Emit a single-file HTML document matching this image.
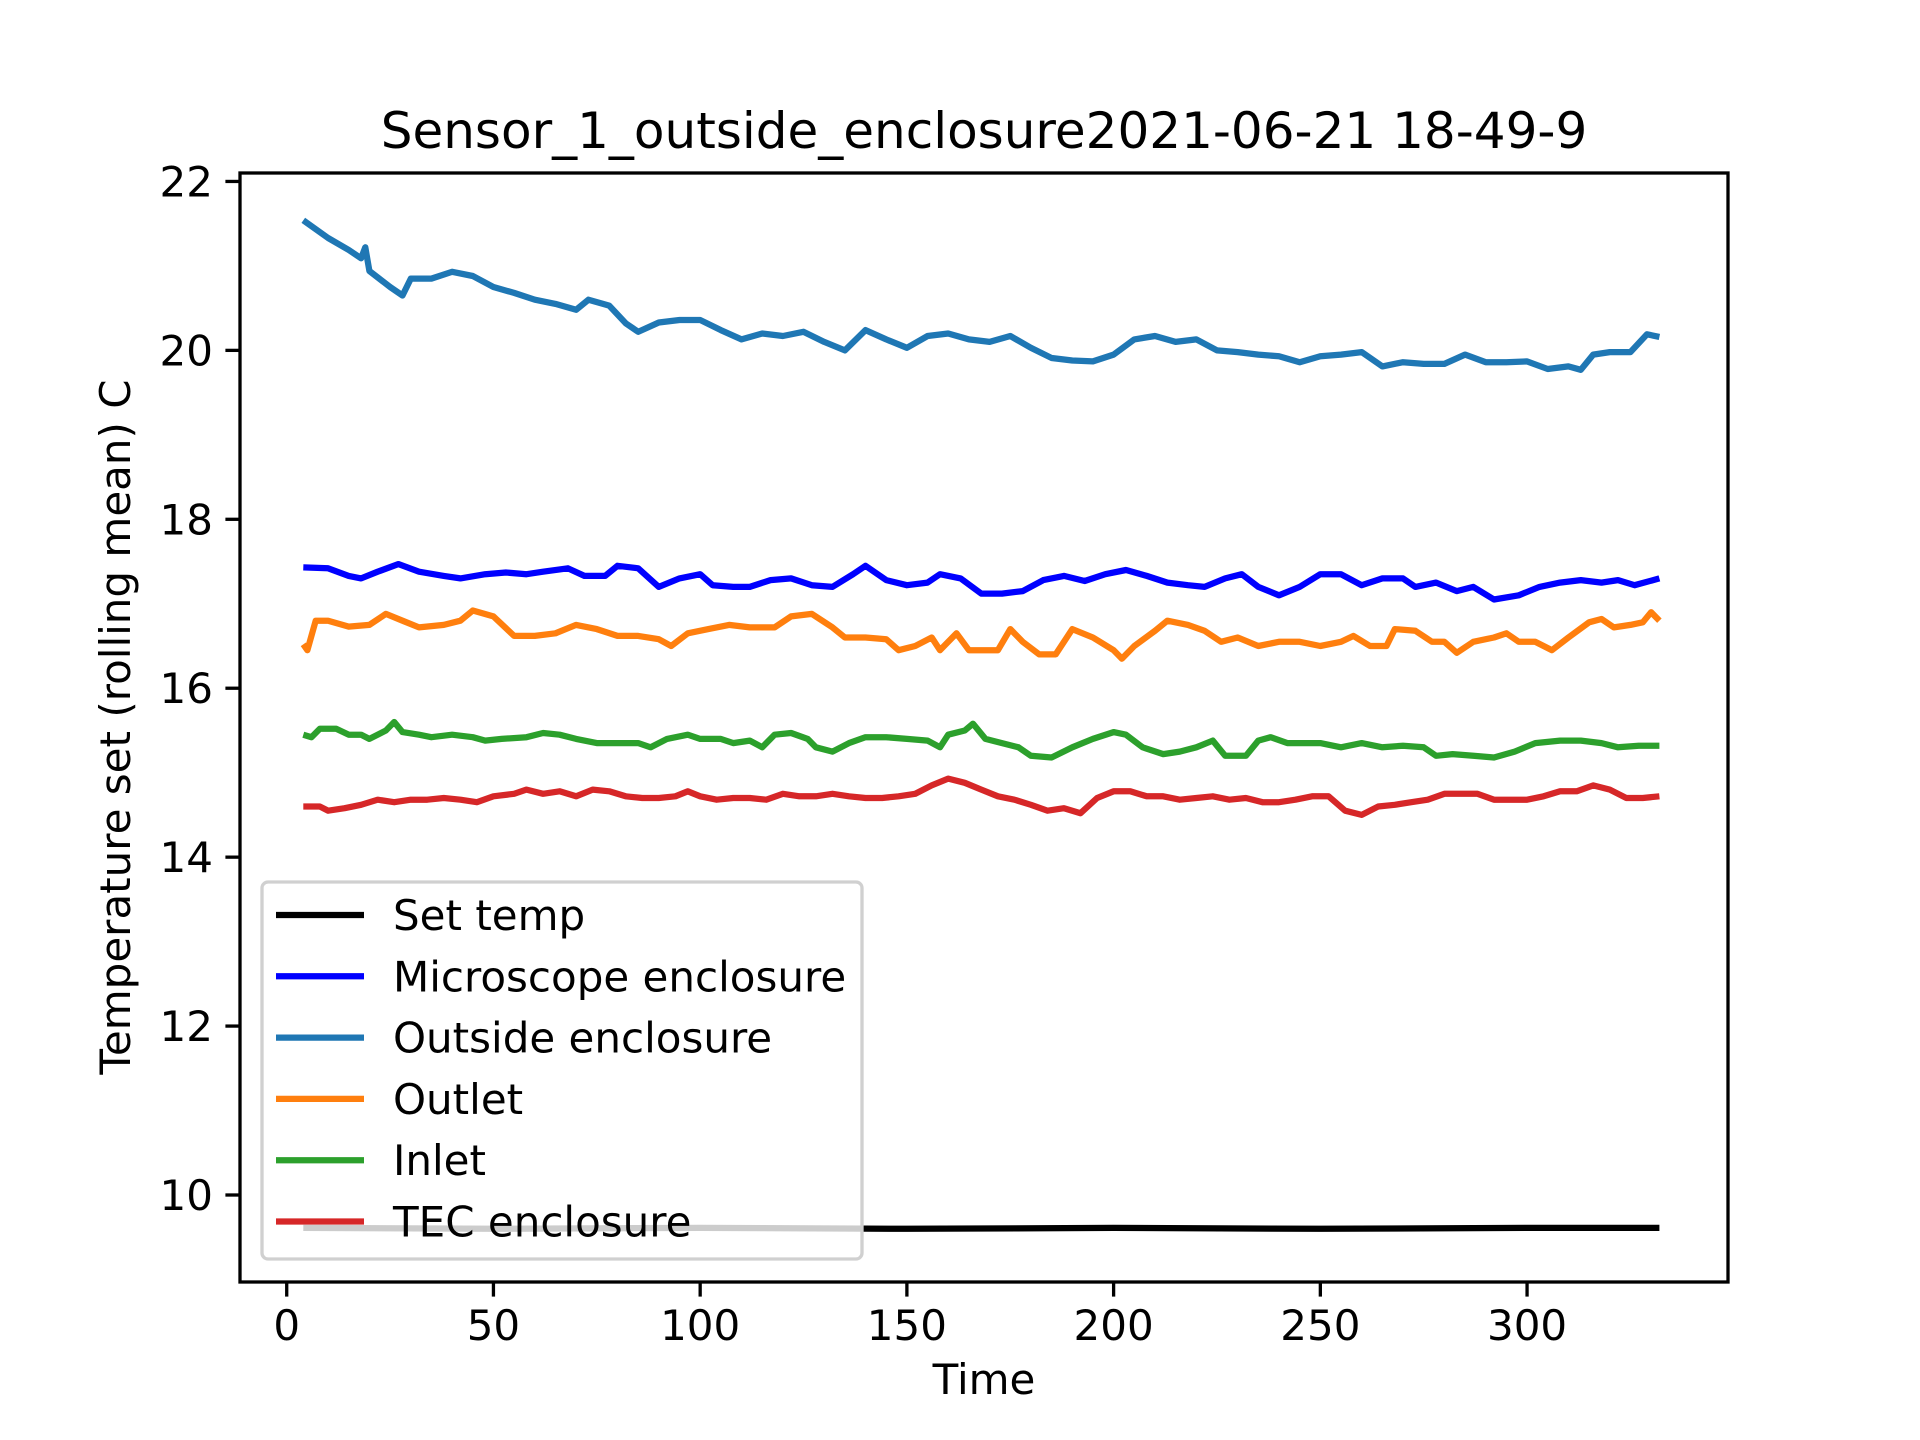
<!DOCTYPE html>
<html><head><meta charset="utf-8"><style>
html,body{margin:0;padding:0;background:#fff;}
svg{display:block;font-family:"DejaVu Sans","Liberation Sans",sans-serif;}
</style></head><body>
<svg id="chart" width="1920" height="1440" viewBox="0 0 1920 1440" xmlns="http://www.w3.org/2000/svg">
<rect width="1920" height="1440" fill="#fff"/>
<text x="984" y="148" font-size="50" text-anchor="middle">Sensor_1_outside_enclosure2021-06-21 18-49-9</text>
<g id="series"></g>
<g id="legend"></g>
<rect x="240" y="173" width="1488" height="1109" fill="none" stroke="#000" stroke-width="3.3"/>
<g id="xticks"></g><g id="yticks"></g>
<text x="984" y="1394" font-size="42" text-anchor="middle">Time</text>
<text x="130" y="727" font-size="42" text-anchor="middle" transform="rotate(-90 130 727)">Temperature set (rolling mean) C</text>
</svg>
<script>
const xTicks=[0,50,100,150,200,250,300];
const yTicks=[10,12,14,16,18,20,22];
const outsideT=[4,10,15,18,19,20,25,28,30,35,40,45,50,55,60,65,70,73,78,82,85,90,95,100,105,110,115,120,125,130,135,140,145,150,155,160,165,170,175,180,185,190,195,200,205,210,215,220,225,230,235,240,245,250,255,260,265,270,275,280,285,290,295,300,305,310,313,316,320,325,329,332];
const outsideV=[21.54,21.33,21.19,21.09,21.22,20.94,20.75,20.65,20.85,20.85,20.93,20.88,20.75,20.68,20.6,20.55,20.48,20.6,20.53,20.32,20.22,20.33,20.36,20.36,20.24,20.13,20.2,20.17,20.22,20.1,20.0,20.24,20.13,20.03,20.17,20.2,20.13,20.1,20.17,20.03,19.91,19.88,19.87,19.95,20.13,20.17,20.1,20.13,20.0,19.98,19.95,19.93,19.86,19.93,19.95,19.98,19.81,19.86,19.84,19.84,19.95,19.86,19.86,19.87,19.78,19.81,19.77,19.95,19.98,19.98,20.19,20.16];
const microT=[4,10,15,18,22,27,32,38,42,48,53,58,62,68,72,77,80,85,90,95,100,103,108,112,117,122,127,132,137,140,145,150,155,158,163,168,173,178,183,188,193,198,203,208,213,218,222,227,231,235,240,245,250,255,260,265,270,273,278,283,287,292,298,303,308,313,318,322,326,332];
const microV=[17.43,17.42,17.33,17.3,17.38,17.47,17.38,17.33,17.3,17.35,17.37,17.35,17.38,17.42,17.33,17.33,17.45,17.42,17.2,17.3,17.35,17.22,17.2,17.2,17.28,17.3,17.22,17.2,17.35,17.45,17.28,17.22,17.25,17.35,17.3,17.12,17.12,17.15,17.28,17.33,17.27,17.35,17.4,17.33,17.25,17.22,17.2,17.3,17.35,17.2,17.1,17.2,17.35,17.35,17.22,17.3,17.3,17.2,17.25,17.15,17.2,17.05,17.1,17.2,17.25,17.28,17.25,17.28,17.22,17.3];
const outletT=[4,5,7,10,15,20,24,28,32,38,42,45,50,55,60,65,70,75,80,85,90,93,97,102,107,112,118,122,127,132,135,140,145,148,152,156,158,162,165,168,172,175,178,182,186,190,195,200,202,205,210,213,218,222,226,230,235,240,245,250,255,258,262,266,268,273,277,280,283,287,292,295,298,302,306,310,315,318,321,325,328,330,332];
const outletV=[16.52,16.45,16.8,16.8,16.73,16.75,16.88,16.8,16.72,16.75,16.8,16.92,16.85,16.62,16.62,16.65,16.75,16.7,16.62,16.62,16.58,16.5,16.65,16.7,16.75,16.72,16.72,16.85,16.88,16.72,16.6,16.6,16.58,16.45,16.5,16.6,16.45,16.65,16.45,16.45,16.45,16.7,16.55,16.4,16.4,16.7,16.6,16.45,16.35,16.5,16.68,16.8,16.75,16.68,16.55,16.6,16.5,16.55,16.55,16.5,16.55,16.62,16.5,16.5,16.7,16.68,16.55,16.55,16.42,16.55,16.6,16.65,16.55,16.55,16.45,16.6,16.78,16.82,16.72,16.75,16.78,16.9,16.8];
const inletT=[4,6,8,12,15,18,20,24,26,28,32,35,40,45,48,52,58,62,66,70,75,80,85,88,92,97,100,105,108,112,115,118,122,126,128,132,136,140,145,150,155,158,160,164,166,169,173,177,180,185,190,195,200,203,207,212,216,220,224,227,232,235,238,242,246,250,255,260,265,270,275,278,282,287,292,297,302,308,313,318,322,327,332];
const inletV=[15.45,15.42,15.52,15.52,15.45,15.45,15.4,15.5,15.6,15.48,15.45,15.42,15.45,15.42,15.38,15.4,15.42,15.47,15.45,15.4,15.35,15.35,15.35,15.3,15.4,15.45,15.4,15.4,15.35,15.38,15.3,15.45,15.47,15.4,15.3,15.25,15.35,15.42,15.42,15.4,15.38,15.3,15.45,15.5,15.58,15.4,15.35,15.3,15.2,15.18,15.3,15.4,15.48,15.45,15.3,15.22,15.25,15.3,15.38,15.2,15.2,15.38,15.42,15.35,15.35,15.35,15.3,15.35,15.3,15.32,15.3,15.2,15.22,15.2,15.18,15.25,15.35,15.38,15.38,15.35,15.3,15.32,15.32];
const tecT=[4,8,10,14,18,22,26,30,34,38,42,46,50,55,58,62,66,70,74,78,82,86,90,94,97,100,104,108,112,116,120,124,128,132,136,140,144,148,152,156,160,164,168,172,176,180,184,188,192,196,200,204,208,212,216,220,224,228,232,236,240,244,248,252,256,260,264,268,272,276,280,284,288,292,296,300,304,308,312,316,320,324,328,332];
const tecV=[14.6,14.6,14.55,14.58,14.62,14.68,14.65,14.68,14.68,14.7,14.68,14.65,14.72,14.75,14.8,14.75,14.78,14.72,14.8,14.78,14.72,14.7,14.7,14.72,14.78,14.72,14.68,14.7,14.7,14.68,14.75,14.72,14.72,14.75,14.72,14.7,14.7,14.72,14.75,14.85,14.93,14.88,14.8,14.72,14.68,14.62,14.55,14.58,14.52,14.7,14.78,14.78,14.72,14.72,14.68,14.7,14.72,14.68,14.7,14.65,14.65,14.68,14.72,14.72,14.55,14.5,14.6,14.62,14.65,14.68,14.75,14.75,14.75,14.68,14.68,14.68,14.72,14.78,14.78,14.85,14.8,14.7,14.7,14.72];
const setT=[4,50,100,150,200,250,300,332];
const setV=[9.61,9.6,9.61,9.6,9.61,9.6,9.61,9.61];
const seriesNames=["Set temp","Microscope enclosure","Outside enclosure","Outlet","Inlet","TEC enclosure"];
const seriesColors=["#000000","#0000ff","#1f77b4","#ff7f0e","#2ca02c","#d62728"];

const NS="http://www.w3.org/2000/svg";
const X0=240,X1=1728,Y0=173,Y1=1282;
const xmin=-11.3,xmax=348.6,ymin=8.97,ymax=22.1;
function sx(v){return X0+(v-xmin)/(xmax-xmin)*(X1-X0);}
function sy(v){return Y1-(v-ymin)/(ymax-ymin)*(Y1-Y0);}
function mk(tag,parent){const e=document.createElementNS(NS,tag);parent.appendChild(e);return e;}

const sg=document.getElementById('series');
const data=[[setT,setV],[microT,microV],[outsideT,outsideV],[outletT,outletV],[inletT,inletV],[tecT,tecV]];
const slugs=['set-temp-line','microscope-enclosure-line','outside-enclosure-line','outlet-line','inlet-line','tec-enclosure-line'];
data.forEach((d,i)=>{
  const p=mk('path',sg);
  
  
  p.setAttribute('d',d[0].map((t,j)=>(j?'L':'M')+sx(t).toFixed(1)+' '+sy(d[1][j]).toFixed(1)).join(''));
  p.setAttribute('fill','none');p.setAttribute('stroke',seriesColors[i]);
  p.setAttribute('stroke-width','6.25');p.setAttribute('stroke-linejoin','round');
});

const xg=document.getElementById('xticks');
xTicks.forEach(v=>{
  const l=mk('line',xg);
  
  
  l.setAttribute('x1',sx(v));l.setAttribute('x2',sx(v));l.setAttribute('y1',Y1);l.setAttribute('y2',Y1+14.6);
  l.setAttribute('stroke','#000');l.setAttribute('stroke-width','3.3');
  const t=mk('text',xg);
  
  
  t.setAttribute('x',sx(v));t.setAttribute('y',Y1+58);t.setAttribute('font-size','42');t.setAttribute('text-anchor','middle');
  t.textContent=v;
});
const yg=document.getElementById('yticks');
yTicks.forEach(v=>{
  const l=mk('line',yg);
  
  
  l.setAttribute('x1',X0-14.6);l.setAttribute('x2',X0);l.setAttribute('y1',sy(v));l.setAttribute('y2',sy(v));
  l.setAttribute('stroke','#000');l.setAttribute('stroke-width','3.3');
  const t=mk('text',yg);
  
  
  t.setAttribute('x',X0-27);t.setAttribute('y',sy(v)+15);t.setAttribute('font-size','42');t.setAttribute('text-anchor','end');
  t.textContent=v;
});

const lg=document.getElementById('legend');
const box=mk('rect',lg);


box.setAttribute('x',262);box.setAttribute('y',882);box.setAttribute('width',600);box.setAttribute('height',377);
box.setAttribute('rx',6);box.setAttribute('fill','rgba(255,255,255,0.8)');box.setAttribute('stroke','#d0d0d0');box.setAttribute('stroke-width','3.3');
seriesNames.forEach((n,i)=>{
  const y=915+i*61.3;
  const l=mk('line',lg);
  
  
  l.setAttribute('x1',276);l.setAttribute('x2',364);l.setAttribute('y1',y);l.setAttribute('y2',y);
  l.setAttribute('stroke',seriesColors[i]);l.setAttribute('stroke-width','6.25');
  const t=mk('text',lg);
  
  
  t.setAttribute('x',393);t.setAttribute('y',y+15);t.setAttribute('font-size','42');
  t.textContent=n;
});
</script>
</body></html>
